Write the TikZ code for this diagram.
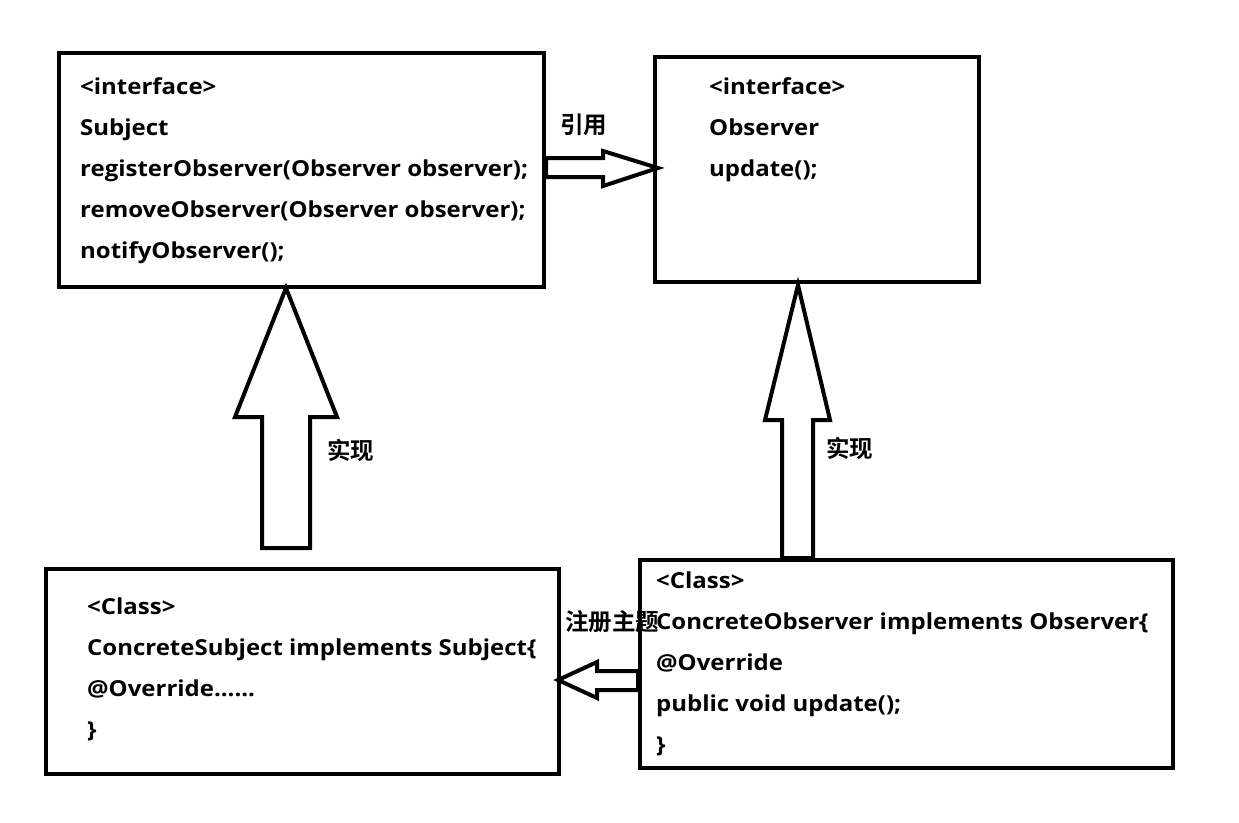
\documentclass[tikz,border=0pt]{standalone}
\usepackage{fontspec}
\setmainfont{Open Sans}[BoldFont={* Bold},BoldFeatures={FakeStretch=1.09}]
\newfontfamily\cjk{Noto Sans CJK SC}[BoldFont={Noto Sans CJK SC Bold}]
\begin{document}
\begin{tikzpicture}[x=1pt,y=-1pt,
  box/.style={draw=black,line width=4pt,fill=white,rectangle,inner sep=0pt},
  txt/.style={anchor=base west,inner sep=0pt,font=\fontsize{22}{26}\selectfont\bfseries},
  lbl/.style={anchor=base west,inner sep=0pt,font=\fontsize{23.5}{28}\selectfont\cjk\bfseries},
  blockarrow/.style={draw=black,line width=4pt,fill=white,line join=miter}]
\useasboundingbox[fill=white] (0,0) rectangle (1239,822);
% boxes
\node[box,minimum width=485pt,minimum height=234pt] (subj) at (301.5,170) {};
\node[box,minimum width=324pt,minimum height=225pt] (obs) at (817,169.5) {};
\node[box,minimum width=513pt,minimum height=205pt] (csubj) at (302.5,671.5) {};
\node[box,minimum width=533pt,minimum height=208pt] (cobs) at (906.5,664) {};
% arrows
\draw[blockarrow] (546,158) -- (603,158) -- (603,151) -- (658,168) -- (603,186) -- (603,177) -- (546,177) -- cycle;
\draw[blockarrow] (286,288) -- (337,417) -- (310,417) -- (310,548) -- (262,548) -- (262,417) -- (235,417) -- cycle;
\draw[blockarrow] (798,285) -- (830,420) -- (813,420) -- (813,558) -- (782,558) -- (782,420) -- (765,420) -- cycle;
\draw[blockarrow] (558,680) -- (597,662) -- (597,671) -- (638,671) -- (638,690) -- (597,690) -- (597,698) -- cycle;
% subject text
\node[txt] (s1) at (80,94) {<interface>};
\node[txt] (s2) at (80,135) {Subject};
\node[txt] (s3) at (80,176) {registerObserver(Observer observer);};
\node[txt] (s4) at (80,217) {removeObserver(Observer observer);};
\node[txt] (s5) at (80,258) {notifyObserver();};
% observer text
\node[txt] (o1) at (709,94) {<interface>};
\node[txt] (o2) at (709,135) {Observer};
\node[txt] (o3) at (709,176) {update();};
% concrete subject
\node[txt] (c1) at (87,614) {<Class>};
\node[txt] (c2) at (87,655) {ConcreteSubject implements Subject\{};
\node[txt] (c3) at (87,696) {@Override......};
\node[txt] (c4) at (87,737) {\}};
% concrete observer
\node[lbl] (l3) at (565,630) {注册主题};
\node[txt] (d1) at (656,588) {<Class>};
\node[txt] (d2) at (656,629) {ConcreteObserver implements Observer\{};
\node[txt] (d3) at (656,670) {@Override};
\node[txt] (d4) at (656,711) {public void update();};
\node[txt] (d5) at (656,752) {\}};
% labels
\node[lbl] (l1) at (560,133) {引用};
\node[lbl] (l2) at (327,459) {实现};
\node[lbl] (l4) at (826,457) {实现};
\end{tikzpicture}
\end{document}
